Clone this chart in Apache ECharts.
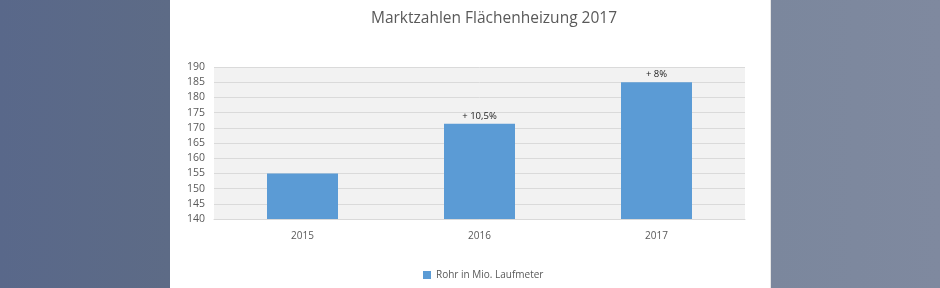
<!DOCTYPE html>
<html><head><meta charset="utf-8">
<script src="https://cdn.jsdelivr.net/npm/echarts@6/dist/echarts.min.js"></script>
<style>
html,body{margin:0;padding:0;}
body{width:940px;height:288px;position:relative;overflow:hidden;
background:linear-gradient(90deg,#59688a 0%,#5d6b86 18%,#7b879d 82%,#7f899f 100%);}
#panel{position:absolute;left:170px;top:0;width:600px;height:288px;background:#fff;border-right:1px solid #e6e6e6;}
#chart{position:absolute;left:0;top:0;width:940px;height:288px;}
</style></head>
<body><div id="panel"></div><div id="chart"></div>
<script>
const title = "Marktzahlen Flächenheizung 2017";
const categories = ["2015", "2016", "2017"];
const values = [155, 171.3, 185];
const growthLabels = ["", "+ 10,5%", "+ 8%"];
const seriesName = "Rohr in Mio. Laufmeter";

const chart = echarts.init(document.getElementById('chart'), null, {renderer:'canvas'});
const font = "'Open Sans', 'Noto Sans', sans-serif";
chart.setOption({
  backgroundColor: 'transparent',
  animation: false,
  title: {text: title, left: 489, top: 6, textAlign: 'center',
    textStyle: {fontFamily: font, fontSize: 15.5, fontWeight: 'normal', color: '#595959'}},
  grid: {left: 214, right: 195, top: 67, bottom: 69, show: true, backgroundColor: '#f2f2f2', borderWidth: 0},
  legend: {data: [seriesName], left: 418, top: 265, itemWidth: 8, itemHeight: 8, icon: 'rect',
    textStyle: {fontFamily: font, fontSize: 10, color: '#595959'}, itemGap: 4},
  xAxis: {type: 'category', data: categories,
    axisLine: {show: true, lineStyle: {color: '#d9d9d9'}}, axisTick: {show: false},
    axisLabel: {fontFamily: font, fontSize: 10, color: '#595959', margin: 12}},
  yAxis: {type: 'value', min: 140, max: 190, interval: 5,
    axisLine: {show: false}, axisTick: {show: false},
    splitLine: {lineStyle: {color: '#dadada', width: 1}},
    axisLabel: {fontFamily: font, fontSize: 10.5, color: '#595959', margin: 9}},
  series: [{
    name: seriesName, type: 'bar', data: values, barWidth: 71,
    itemStyle: {color: '#5b9bd5'},
    label: {show: true, position: 'top', distance: 3, fontFamily: font, fontSize: 9.5, color: '#222',
      formatter: p => growthLabels[p.dataIndex]}
  }]
});
</script></body></html>
